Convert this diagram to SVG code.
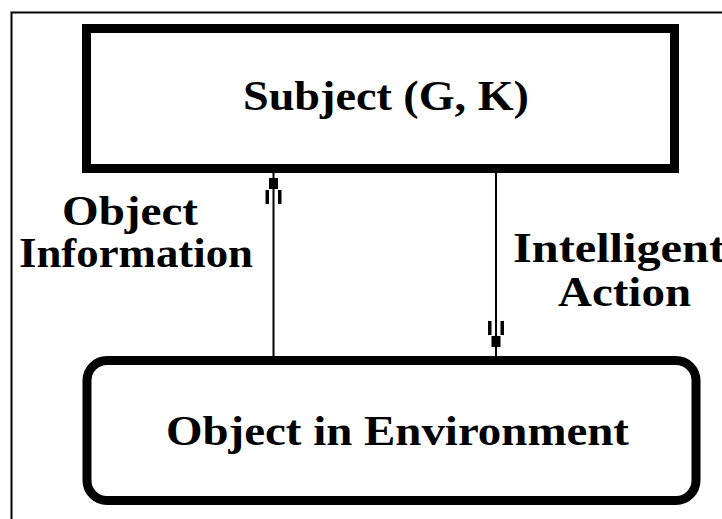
<svg xmlns="http://www.w3.org/2000/svg" width="722" height="519" viewBox="0 0 722 519">
  <style>
    .box { fill: #ffffff; stroke: #000000; stroke-width: 9; }
    .frame { fill: none; stroke: #000000; stroke-width: 2; }
    .conn { stroke: #000000; stroke-width: 2; fill: none; }
    .lbl { font-family: "Liberation Serif", "Times New Roman", serif; font-weight: bold; font-size: 42px; fill: #000000; }
  </style>
  <defs>
    <g id="ah">
      <rect x="-4.5" y="6" width="9" height="11" fill="#000"/>
      <rect x="-8" y="18" width="3.5" height="14" fill="#000"/>
      <rect x="4.5" y="18" width="3.5" height="14" fill="#000"/>
    </g>
  </defs>
  <rect x="0" y="0" width="722" height="519" fill="#ffffff"/>
  <rect class="frame" x="11.5" y="12.5" width="740" height="540"/>

  <g id="connectors">
    <g id="edge-object-information">
      <line class="conn" x1="273.5" y1="172" x2="273.5" y2="358"/>
      <use href="#ah" transform="translate(273.5,172)"/>
      <text class="lbl" x="62" y="225" textLength="136" lengthAdjust="spacingAndGlyphs">Object</text>
      <text class="lbl" x="19" y="267" textLength="234" lengthAdjust="spacingAndGlyphs">Information</text>
    </g>
    <g id="edge-intelligent-action">
      <line class="conn" x1="496" y1="172" x2="496" y2="358"/>
      <use href="#ah" transform="translate(496,353) rotate(180)"/>
      <text class="lbl" x="513" y="262" textLength="212" lengthAdjust="spacingAndGlyphs">Intelligent</text>
      <text class="lbl" x="558" y="306" textLength="133" lengthAdjust="spacingAndGlyphs">Action</text>
    </g>
  </g>

  <g id="subject">
    <rect class="box" x="86.5" y="28.5" width="588" height="140"/>
    <text class="lbl" x="243" y="110" textLength="286" lengthAdjust="spacingAndGlyphs">Subject (G, K)</text>
  </g>

  <g id="object-in-environment">
    <rect class="box" x="87" y="360.5" width="609" height="140" rx="20" ry="20"/>
    <text class="lbl" x="166" y="445" textLength="463" lengthAdjust="spacingAndGlyphs">Object in Environment</text>
  </g>
</svg>
